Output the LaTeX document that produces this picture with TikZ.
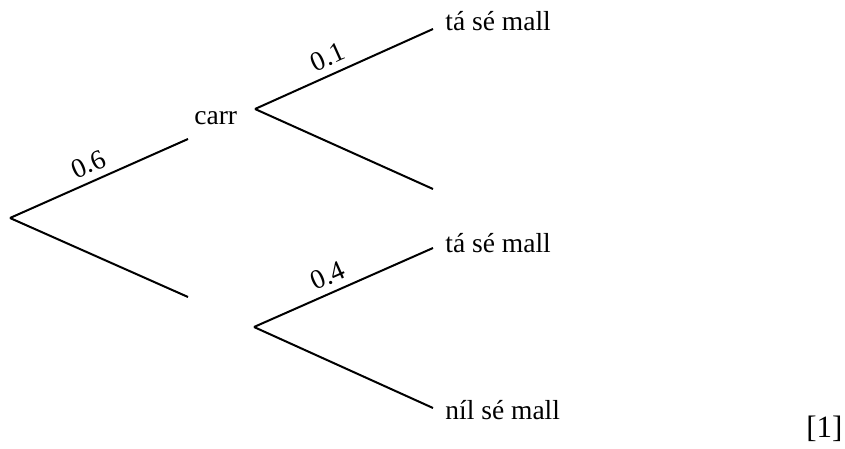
\documentclass[tikz,border=0pt]{standalone}
\usepackage{fontspec}
\setmainfont{Liberation Serif}
\begin{document}
\begin{tikzpicture}[x=0.5pt,y=-0.5pt,
  branch/.style={line width=1pt},
  outcome/.style={anchor=base west,inner sep=0pt,font=\fontsize{13.75}{16}\selectfont},
  prob/.style={sloped,above=1.5pt,inner sep=2pt,font=\fontsize{13.75}{16}\selectfont}]
\useasboundingbox (0,0) rectangle (845,449);
\coordinate (r) at (10,218);
\coordinate (a1) at (188,139);
\coordinate (a2) at (188,297);
\coordinate (b) at (255,109);
\coordinate (b1) at (433,29);
\coordinate (b2) at (433,189);
\coordinate (c) at (254,327);
\coordinate (c1) at (433,248);
\coordinate (c2) at (433,408);
\node[outcome] (carr) at (194,125) {carr};
\node[outcome] (t1) at (445,31) {tá sé mall};
\node[outcome] (t2) at (445,252) {tá sé mall};
\node[outcome] (n2) at (445,419) {níl sé mall};
\node[anchor=base west,inner sep=0pt,font=\fontsize{15.5}{18}\selectfont] (mark) at (806,437) {[1]};
\draw[branch] (r) -- (a1) node[prob,pos=0.48] {0.6};
\draw[branch] (r) -- (a2);
\draw[branch] (b) -- (b1) node[prob,pos=0.45] {0.1};
\draw[branch] (b) -- (b2);
\draw[branch] (c) -- (c1) node[prob,pos=0.45] {0.4};
\draw[branch] (c) -- (c2);
\end{tikzpicture}
\end{document}
